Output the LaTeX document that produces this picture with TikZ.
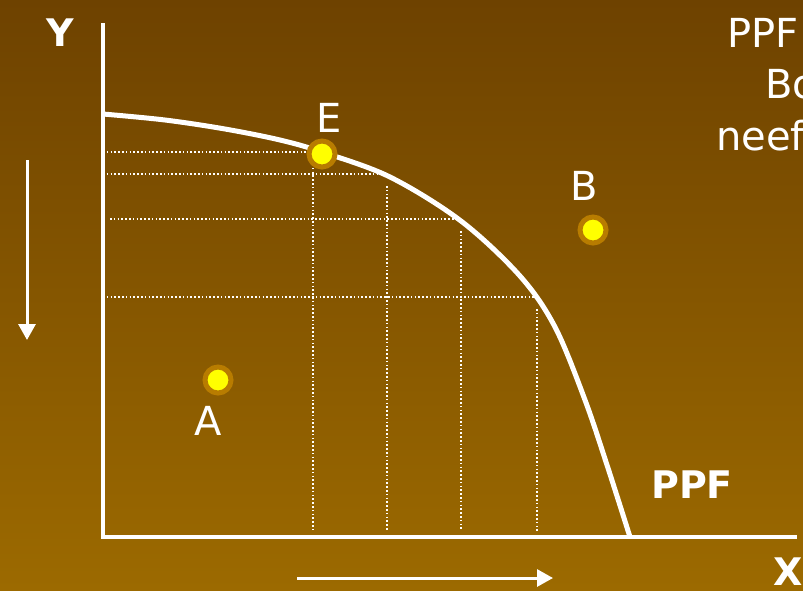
\documentclass[tikz,border=0pt]{standalone}
\usepackage{fontspec}
\setmainfont{DejaVu Sans}
\usetikzlibrary{arrows.meta,positioning}
\definecolor{bgtop}{RGB}{110,66,0}
\definecolor{bgbot}{RGB}{156,106,0}
\definecolor{ring}{RGB}{184,124,0}
\definecolor{dotyel}{RGB}{255,255,0}
\tikzset{
  axis/.style={white, line width=4pt},
  ppf/.style={white, line width=5pt},
  guide/.style={white, line width=1.6pt, dash pattern=on 1.6pt off 2.2pt},
  pt/.style={circle, fill=dotyel, draw=ring, line width=5pt, minimum size=26pt, inner sep=0pt},
  lbl/.style={text=white, font=\fontsize{40}{44}\selectfont, inner sep=0pt},
  blbl/.style={text=white, font=\fontsize{38}{42}\selectfont\bfseries, inner sep=0pt},
  move/.style={white, line width=3pt, -{Triangle[length=16pt,width=17pt]}}
}
\begin{document}
\begin{tikzpicture}[x=1pt,y=-1pt]
  \useasboundingbox (0,0) rectangle (803,590);
  \clip (0,0) rectangle (803,590);
  \shade[top color=bgtop, bottom color=bgbot] (0,0) rectangle (803,590);

  % axes
  \coordinate (O) at (103,537);
  \coordinate (ytop) at (103,23);
  \coordinate (xend) at (797,537);
  \draw[axis] (ytop) -- (O |- 0,539) (101,537) -- (xend);
  \node[blbl] (Ylab) at (60,33) {Y};
  \node[blbl] (Xlab) at (788,572) {X};

  % guide lines
  \coordinate (e1) at (313,152);
  \coordinate (e2) at (387,174);
  \coordinate (e3) at (461,219);
  \coordinate (e4) at (537,297);
  \draw[guide] (103,152) -- (e1) (103,174) -- (e2) (110,219) -- (e3) (103,297) -- (e4);
  \foreach \c in {e1,e2,e3,e4}
    \draw[guide] (\c) ++(0,12) -- (\c |- 0,531);

  % frontier
  \draw[ppf] plot[smooth, tension=0.55] coordinates {(103,114) (165,120) (225,129) (280,140) (322,152) (390,177) (461,221) (520,276) (555,327) (585,400) (607,465) (630,537)};
  \node[blbl] (ppflab) at (692,485) {PPF};

  % points
  \node[pt] (E) at (322,154) {};
  \node[pt] (B) at (593,230) {};
  \node[pt] (A) at (218,380) {};
  \node[lbl, above=6pt of E, xshift=7pt] (Elab) {E};
  \node[lbl, above=14pt of B, xshift=-9pt] (Blab) {B};
  \node[lbl, below=11pt of A, xshift=-10pt] (Alab) {A};

  % note, cut off at the edge
  \node[lbl, anchor=west] (n1) at (727,33) {PPF};
  \node[lbl, anchor=west] (n2) at (765,84) {Bo};
  \node[lbl, anchor=west] (n3) at (716,136) {neefe};

  % direction arrows
  \coordinate (d1) at (27,160);
  \coordinate (d2) at (27,340);
  \coordinate (r1) at (297,578);
  \coordinate (r2) at (553,578);
  \draw[move] (d1) -- (d2);
  \draw[move] (r1) -- (r2);
\end{tikzpicture}
\end{document}
